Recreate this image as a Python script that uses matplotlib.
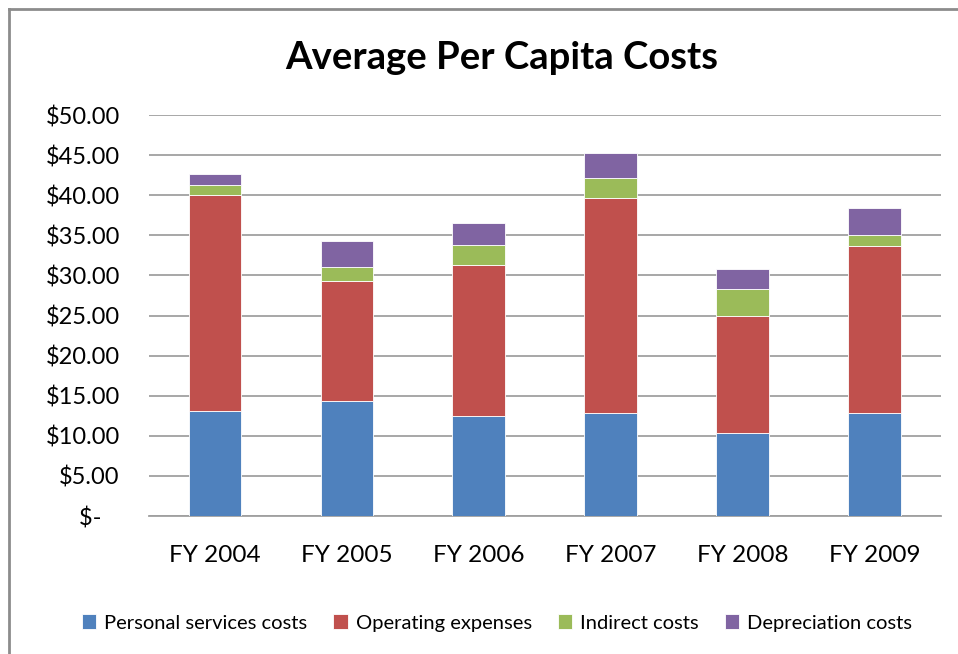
import matplotlib
matplotlib.use("Agg")
import matplotlib.pyplot as plt
import numpy as np
from matplotlib.lines import Line2D

plt.rcParams['font.family'] = ['Lato', 'DejaVu Sans']

years = ["FY 2004", "FY 2005", "FY 2006", "FY 2007", "FY 2008", "FY 2009"]
personal = [13.1, 14.3, 12.5, 12.9, 10.35, 12.8]
operating = [26.9, 15.0, 18.8, 26.7, 14.55, 20.9]
indirect = [1.3, 1.8, 2.5, 2.5, 3.4, 1.3]
depreciation = [1.3, 3.2, 2.7, 3.2, 2.5, 3.4]

series = [
    ("Personal services costs", personal, "#4F81BD"),
    ("Operating expenses", operating, "#C0504D"),
    ("Indirect costs", indirect, "#9BBB59"),
    ("Depreciation costs", depreciation, "#8064A2"),
]

fig = plt.figure(figsize=(9.58, 6.54), dpi=100)
ax = fig.add_axes([0.1555, 0.211, 0.8265, 0.613])

x = np.arange(len(years))
bottom = np.zeros(len(years))
handles = []
for name, vals, col in series:
    b = ax.bar(x, vals, 0.4, bottom=bottom, color=col, edgecolor="white",
               linewidth=0.6, label=name, zorder=3)
    bottom += np.array(vals)
    handles.append(b)

ax.set_xlim(-0.5, 5.5)
ax.set_ylim(0, 50)
yt = np.arange(0, 55, 5)
ax.set_yticks(yt)
ax.set_yticklabels(["$-   " if v == 0 else f"${v:.2f}" for v in yt], fontsize=17)
ax.set_xticks(x)
ax.set_xticklabels(years, fontsize=17.5)
ax.tick_params(axis="y", length=0, pad=21)
ax.tick_params(axis="x", length=0, pad=21)
ax.grid(axis="y", color="#a0a0a0", linewidth=1.3, zorder=0)
for s in ["top", "right", "left"]:
    ax.spines[s].set_visible(False)
ax.spines["bottom"].set_color("#a0a0a0")
ax.spines["bottom"].set_linewidth(1.3)

fig.text(502 / 958, 1 - 58 / 654, "Average Per Capita Costs", ha="center", va="center",
         fontsize=27.5, fontweight="bold")

fig.legend(handles=handles, loc="center", bbox_to_anchor=(497 / 958, 1 - 623 / 654),
           ncol=4, frameon=False, fontsize=14.5, handlelength=0.7, handleheight=0.7,
           handletextpad=0.4, columnspacing=1.3)

# chart frame (top and left edges)
fig.add_artist(Line2D([9 / 958, 9 / 958], [0, 1 - 9 / 654], transform=fig.transFigure,
                      color="#8c8c8c", linewidth=2))
fig.add_artist(Line2D([9 / 958, 1], [1 - 9 / 654, 1 - 9 / 654], transform=fig.transFigure,
                      color="#8c8c8c", linewidth=2))

fig.savefig("out.png", dpi=100)
